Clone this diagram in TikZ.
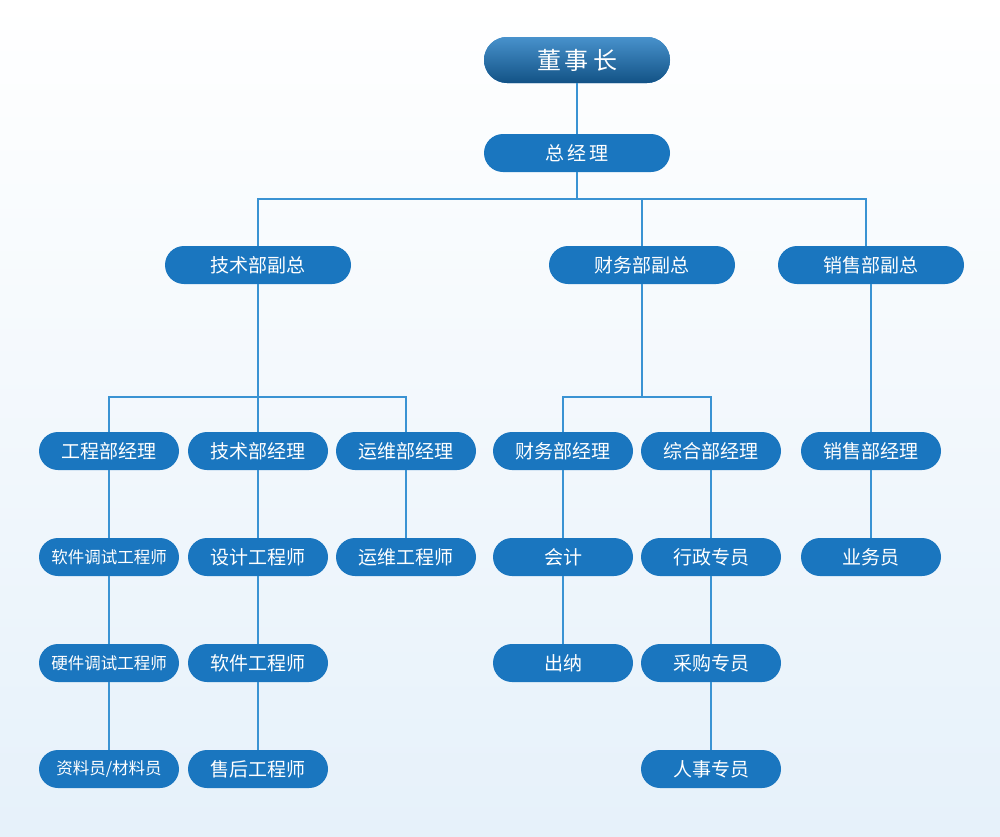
\documentclass[tikz,border=0pt]{standalone}
\usepackage{fontspec}
\newfontfamily\cjk{Noto Sans CJK SC}
\begin{document}
\begin{tikzpicture}[x=1pt,y=-1pt,
 box/.style={rounded corners=19pt,fill=boxc,text=white,font=\cjk\fontsize{19}{19}\selectfont,minimum height=38pt,inner sep=0pt},
 big/.style={box,minimum width=186pt},
 sm/.style={box,minimum width=140pt},
 ln/.style={draw=linec,line width=1.3pt}]
\definecolor{boxc}{HTML}{1A76BF}
\definecolor{linec}{HTML}{3A93D3}
\definecolor{bgtop}{HTML}{FFFFFF}
\definecolor{bgbot}{HTML}{E6F1FA}
\shade[top color=bgtop,bottom color=bgbot] (0,0) rectangle (1000,836);
\useasboundingbox (0,0) rectangle (1000,836);
\node[big,minimum height=46pt,rounded corners=23pt,top color=boxc!80!white,bottom color=boxc!70!black,font=\cjk\fontsize{24}{24}\selectfont] (dsz) at (577,60) {董\,事\,长};
\node[big] (zjl) at (577,153) {总\,经\,理};
\node[big] (js) at (258,265) {技术部副总};
\node[big] (cw) at (642,265) {财务部副总};
\node[big] (xs) at (871,265) {销售部副总};
\node[sm] (gcb) at (109,451) {工程部经理};
\node[sm] (jsb) at (258,451) {技术部经理};
\node[sm] (ywb) at (406,451) {运维部经理};
\node[sm] (cwb) at (563,451) {财务部经理};
\node[sm] (zhb) at (711,451) {综合部经理};
\node[sm] (xsb) at (871,451) {销售部经理};
\node[sm,font=\cjk\fontsize{16.5}{16.5}\selectfont] (rjts) at (109,557) {软件调试工程师};
\node[sm] (sj) at (258,557) {设计工程师};
\node[sm] (yw) at (406,557) {运维工程师};
\node[sm] (kj) at (563,557) {会计};
\node[sm] (xz) at (711,557) {行政专员};
\node[sm] (ywy) at (871,557) {业务员};
\node[sm,font=\cjk\fontsize{16.5}{16.5}\selectfont] (yjts) at (109,663) {硬件调试工程师};
\node[sm] (rj) at (258,663) {软件工程师};
\node[sm] (cn) at (563,663) {出纳};
\node[sm] (cg) at (711,663) {采购专员};
\node[sm,font=\cjk\fontsize{16.5}{16.5}\selectfont] (zl) at (109,769) {资料员/材料员};
\node[sm] (sh) at (258,769) {售后工程师};
\node[sm] (rs) at (711,769) {人事专员};
\begin{scope}[on background layer/.style={}]
\draw[ln] (dsz) -- (zjl);
\draw[ln] (zjl.south) -- (577,199);
\draw[ln] (js.north) |- (577,199) -| (cw.north);
\draw[ln] (577,199) -| (866,246);
\draw[ln] (js) -- (258,397) -| (gcb.north);
\draw[ln] (258,397) -- (jsb.north);
\draw[ln] (258,397) -| (ywb.north);
\draw[ln] (cw.south) -- (642,397) -| (cwb.north);
\draw[ln] (642,397) -| (zhb.north);
\draw[ln] (xs) -- (xsb);
\draw[ln] (gcb) -- (rjts); \draw[ln] (rjts) -- (yjts); \draw[ln] (yjts) -- (zl);
\draw[ln] (jsb) -- (sj); \draw[ln] (sj) -- (rj); \draw[ln] (rj) -- (sh);
\draw[ln] (ywb) -- (yw);
\draw[ln] (cwb) -- (kj); \draw[ln] (kj) -- (cn);
\draw[ln] (zhb) -- (xz); \draw[ln] (xz) -- (cg); \draw[ln] (cg) -- (rs);
\draw[ln] (xsb) -- (ywy);
\end{scope}
\end{tikzpicture}
\end{document}
